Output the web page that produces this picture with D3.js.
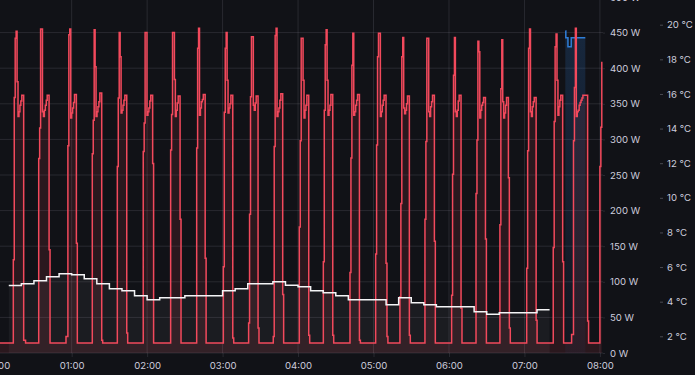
<!DOCTYPE html>
<html>
<head>
<meta charset="utf-8">
<script src="https://cdn.jsdelivr.net/npm/d3@7"></script>
<style>
  html, body { margin: 0; padding: 0; background: #111217; overflow: hidden; }
  svg { display: block; }
  .tick text { font-family: Inter, "Noto Sans", sans-serif; font-size: 9.6px; fill: #ccccdc; }
</style>
</head>
<body>
<div id="chart-container"></div>
<script>
// minutes after 00:00
const hourTicks = [0, 1, 2, 3, 4, 5, 6, 7, 8];
const wattTicks = [0, 50, 100, 150, 200, 250, 300, 350, 400, 450, 500];
const tempTicks = [2, 4, 6, 8, 10, 12, 14, 16, 18, 20];

// heat pump power: start of each run (min) and the readings that follow, one every 45 s
const sampleMinutes = 0.75;
const baseWatts = 14;
const powerCycleStart = [13.6, 33.8, 55.5, 76.4, 96.3, 116.9, 138.7, 159.4, 180.6, 200.7, 220.3, 241.0,
  260.1, 281.3, 301.7, 321.0, 340.9, 362.1, 381.5, 400.5, 421.8, 442.9, 457.5, 480.0];
const powerCycleWatts = [
  [131, 359, 442, 452, 381, 332, 339, 348, 354, 362, 362, 18, 18, 14],
  [273, 316, 455, 455, 339, 332, 341, 348, 355, 362, 362, 145, 14],
  [23, 23, 291, 447, 455, 330, 337, 344, 352, 363, 363, 154, 14],
  [280, 327, 454, 402, 332, 339, 346, 353, 365, 365, 18, 14],
  [262, 358, 450, 416, 337, 341, 348, 355, 362, 362, 28, 14],
  [283, 323, 450, 450, 334, 339, 344, 354, 362, 362, 266, 14],
  [285, 335, 450, 450, 384, 332, 341, 351, 361, 361, 188, 14],
  [288, 428, 456, 334, 344, 353, 356, 363, 363, 133, 14],
  [121, 338, 428, 450, 383, 337, 344, 350, 362, 362, 21, 14],
  [42, 195, 360, 444, 444, 348, 341, 351, 361, 361, 35, 14],
  [23, 290, 446, 456, 332, 339, 344, 355, 364, 364, 82, 14],
  [177, 298, 442, 442, 383, 330, 341, 348, 362, 362, 25, 14],
  [128, 341, 433, 454, 383, 334, 341, 348, 363, 363, 25, 14],
  [113, 274, 404, 449, 334, 339, 348, 355, 363, 363, 18, 14],
  [139, 292, 416, 449, 449, 332, 339, 348, 355, 362, 362, 126, 23, 14],
  [79, 210, 416, 443, 344, 336, 341, 350, 361, 361, 25, 14],
  [188, 297, 442, 442, 339, 332, 346, 353, 362, 362, 157, 14],
  [81, 251, 390, 443, 339, 332, 341, 354, 362, 362, 63, 14],
  [224, 299, 438, 423, 330, 341, 348, 352, 359, 359, 160, 14],
  [180, 371, 440, 353, 330, 337, 348, 359, 359, 246, 35, 14],
  [119, 284, 428, 455, 339, 332, 346, 353, 359, 359, 46, 14],
  [148, 325, 430, 448, 383, 334, 346, 355, 362, 362, 128, 14],
  [26, 26, 298, 373, 456, 332, 339, 341, 348, 352, 355, 358, 362, 362, 362, 362, 362, 45, 14],
  [262, 317, 409]
];

// outdoor temperature, [minute, °C]
const outdoorTemp = [[10, 4.93], [20, 5.04], [30, 5.21], [40, 5.44], [50, 5.62], [60, 5.56], [70, 5.33],
  [80, 5.04], [90, 4.75], [100, 4.63], [110, 4.34], [120, 4.11], [130, 4.23], [150, 4.34], [180, 4.63],
  [190, 4.75], [200, 5.04], [220, 5.15], [230, 4.95], [240, 4.86], [250, 4.63], [260, 4.52], [270, 4.34],
  [280, 4.11], [310, 3.82], [320, 4.23], [330, 3.94], [340, 3.82], [350, 3.71], [380, 3.42], [390, 3.27],
  [400, 3.36], [430, 3.54], [440, 3.54]];

// water temperature, [minute, °C]
const waterTemp = [[452.5, 19.64], [452.9, 19.25], [454.6, 18.73], [457.2, 19.25], [468.4, 19.25]];

const width = 695;
const height = 375;
const plot = { left: 0, right: 603, top: 0, bottom: 353 };

const base = new Date(2024, 0, 1);
const toDate = m => new Date(base.getTime() + m * 60000);

const xScale = d3.scaleTime()
  .domain([toDate(0), toDate(480)])
  .range([-3.8, 599.9]);

const yWatt = d3.scaleLinear()
  .domain([0, 500])
  .range([353, -3]);

const yTemp = d3.scaleLinear()
  .domain([2, 20])
  .range([336.3, 24.7]);

const powerPoints = [[2.5, baseWatts]];
powerCycleStart.forEach((s, i) => {
  powerCycleWatts[i].forEach((w, j) => powerPoints.push([s + j * sampleMinutes, w]));
});

const svg = d3.select("#chart-container")
  .append("svg")
  .attr("width", width)
  .attr("height", height);

svg.append("rect").attr("width", width).attr("height", height).attr("fill", "#111217");

const defs = svg.append("defs");
defs.append("clipPath").attr("id", "plot-clip")
  .append("rect")
  .attr("x", plot.left).attr("y", -10)
  .attr("width", plot.right - plot.left).attr("height", plot.bottom + 10);

const blueGrad = defs.append("linearGradient")
  .attr("id", "blue-fill")
  .attr("gradientUnits", "userSpaceOnUse")
  .attr("x1", 0).attr("x2", 0).attr("y1", 25).attr("y2", plot.bottom);
blueGrad.append("stop").attr("offset", 0).attr("stop-color", "#2f7ed8").attr("stop-opacity", 0.2);
blueGrad.append("stop").attr("offset", 1).attr("stop-color", "#2f7ed8").attr("stop-opacity", 0.05);

const gridColor = "rgba(204,204,220,0.13)";

// grid
svg.append("g")
  .selectAll("line")
  .data(wattTicks)
  .enter()
  .append("line")
  .attr("x1", 0).attr("x2", plot.right)
  .attr("y1", d => yWatt(d)).attr("y2", d => yWatt(d))
  .attr("stroke", gridColor);

svg.append("g")
  .selectAll("line")
  .data(hourTicks)
  .enter()
  .append("line")
  .attr("x1", d => xScale(toDate(d * 60))).attr("x2", d => xScale(toDate(d * 60)))
  .attr("y1", 0).attr("y2", plot.bottom)
  .attr("stroke", gridColor);

// axes
const xAxis = d3.axisBottom(xScale)
  .tickValues(hourTicks.map(h => toDate(h * 60)))
  .tickFormat(d3.timeFormat("%H:%M"))
  .tickSize(4)
  .tickPadding(5);

svg.append("g")
  .attr("transform", `translate(0, ${plot.bottom})`)
  .call(xAxis)
  .call(g => g.select(".domain").remove())
  .call(g => g.selectAll(".tick line").attr("stroke", gridColor));

const wattAxis = d3.axisRight(yWatt)
  .tickValues(wattTicks)
  .tickFormat(d => `${d} W`)
  .tickSize(2)
  .tickPadding(5);

svg.append("g")
  .attr("transform", `translate(${plot.right}, 0)`)
  .call(wattAxis)
  .call(g => g.select(".domain").remove())
  .call(g => g.selectAll(".tick line").attr("stroke", gridColor));

const tempAxis = d3.axisRight(yTemp)
  .tickValues(tempTicks)
  .tickFormat(d => `${d} °C`)
  .tickSize(3)
  .tickPadding(4);

svg.append("g")
  .attr("transform", "translate(660, 0)")
  .call(tempAxis)
  .call(g => g.select(".domain").remove())
  .call(g => g.selectAll(".tick line").attr("stroke", "rgba(204,204,220,0.3)"));

// series
const series = svg.append("g").attr("clip-path", "url(#plot-clip)");

const powerArea = d3.area()
  .curve(d3.curveStepAfter)
  .x(d => xScale(toDate(d[0])))
  .y0(yWatt(0))
  .y1(d => yWatt(d[1]));

const powerLine = d3.line()
  .curve(d3.curveStepAfter)
  .x(d => xScale(toDate(d[0])))
  .y(d => yWatt(d[1]));

const tempArea = d3.area()
  .curve(d3.curveStepAfter)
  .x(d => xScale(toDate(d[0])))
  .y0(yWatt(0))
  .y1(d => yTemp(d[1]));

const tempLine = d3.line()
  .curve(d3.curveStepAfter)
  .x(d => xScale(toDate(d[0])))
  .y(d => yTemp(d[1]));

series.append("path").datum(powerPoints)
  .attr("d", powerArea)
  .attr("fill", "rgba(242,73,92,0.11)");

series.append("path").datum(waterTemp)
  .attr("d", tempArea)
  .attr("fill", "url(#blue-fill)");

series.append("path").datum(outdoorTemp)
  .attr("d", tempArea)
  .attr("fill", "rgba(255,255,255,0.045)");

series.append("path").datum(waterTemp)
  .attr("d", tempLine)
  .attr("fill", "none")
  .attr("stroke", "#2f7ed8")
  .attr("stroke-width", 1.5);

series.append("path").datum(powerPoints)
  .attr("d", powerLine)
  .attr("fill", "none")
  .attr("stroke", "#f2495c")
  .attr("stroke-width", 1.5);

series.append("path").datum(outdoorTemp)
  .attr("d", tempLine)
  .attr("fill", "none")
  .attr("stroke", "#f4f4f6")
  .attr("stroke-width", 1.5);
</script>
</body>
</html>
